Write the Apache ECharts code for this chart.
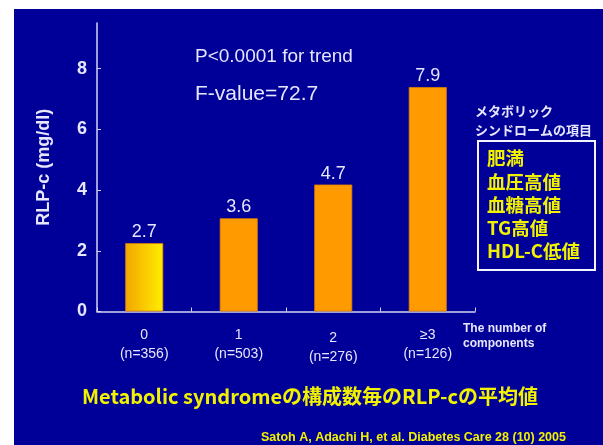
<!DOCTYPE html>
<html>
<head>
<meta charset="utf-8">
<script src="https://cdn.jsdelivr.net/npm/echarts@6/dist/echarts.min.js"></script>
<style>
html,body{margin:0;padding:0;background:#fff;}
#c{width:603px;height:445px;}
</style>
</head>
<body>
<div id="c"></div>
<script>
// Data
var categories = ['0', '1', '2', '≥3'];
var sampleSizes = ['(n=356)', '(n=503)', '(n=276)', '(n=126)'];
// drawn bar heights as they appear against the axis
var barHeights = [2.25, 3.07, 4.18, 7.39];
// printed mean values above the bars
var meanLabels = ['2.7', '3.6', '4.7', '7.9'];
var yTicks = [0, 2, 4, 6, 8];
var componentItems = ['肥満', '血圧高値', '血糖高値', 'TG高値', 'HDL-C低値'];

var FONT = '"Liberation Sans", Arial, "Noto Sans CJK JP", sans-serif';
var JP = '"Noto Sans CJK JP", "Liberation Sans", sans-serif';
var WHITE = '#e6e6ff';
var YELLOW = '#f2f200';
var AXIS = '#d4d4f2';

var chart = echarts.init(document.getElementById('c'), null, {renderer: 'canvas'});

var seriesData = barHeights.map(function (v, i) {
  var item = {value: v};
  if (i === 0) {
    item.itemStyle = {
      color: new echarts.graphic.LinearGradient(0, 0, 1, 0, [
        {offset: 0, color: '#f2a600'},
        {offset: 1, color: '#ffee00'}
      ])
    };
  }
  return item;
});

var graphics = [
  {type: 'rect', z: -100, silent: true, shape: {x: 14, y: 9, width: 589, height: 436}, style: {fill: '#000099'}},
  {type: 'text', left: 195, top: 47, style: {text: 'P<0.0001 for trend', fill: WHITE, font: '19px ' + FONT}},
  {type: 'text', left: 195, top: 84, style: {text: 'F-value=72.7', fill: WHITE, font: '21px ' + FONT}},
  {type: 'text', left: 475, top: 102, style: {text: 'メタボリック\nシンドロームの項目', fill: WHITE, font: 'bold 13px ' + JP, lineHeight: 19}},
  {type: 'rect', shape: {x: 478, y: 141, width: 117, height: 129}, style: {fill: 'none', stroke: '#f4f4ff', lineWidth: 2}},
  {type: 'text', left: 463, top: 321, style: {text: 'The number of\ncomponents', fill: WHITE, font: 'bold 12px ' + FONT, lineHeight: 15}},
  {type: 'text', left: 82, top: 386, style: {text: 'Metabolic syndromeの構成数毎のRLP-cの平均値', fill: YELLOW, font: 'bold 20px ' + JP}},
  {type: 'text', left: 261, top: 431, style: {text: 'Satoh A, Adachi H, et al. Diabetes Care 28 (10) 2005', fill: YELLOW, font: 'bold 12.5px ' + FONT}}
];
componentItems.forEach(function (t, i) {
  graphics.push({type: 'text', left: 487, top: 149 + i * 23.3, style: {text: t, fill: YELLOW, font: 'bold 18.5px ' + JP}});
});

chart.setOption({
  backgroundColor: '#ffffff',
  animation: false,
  grid: {left: 97, right: 128, top: 23, bottom: 133.5},
  xAxis: {
    type: 'category',
    data: categories,
    boundaryGap: true,
    axisLine: {lineStyle: {color: AXIS, width: 1.5}},
    axisTick: {show: true, inside: true, length: 4, lineStyle: {color: AXIS}},
    axisLabel: {
      margin: 14,
      color: WHITE,
      fontFamily: FONT,
      fontSize: 14,
      lineHeight: 19,
      formatter: function (v, i) {
        return i === 2 ? '{low|' + v + '\n' + sampleSizes[i] + '}' : v + '\n' + sampleSizes[i];
      },
      rich: {
        low: {color: WHITE, fontFamily: FONT, fontSize: 14, lineHeight: 19, padding: [7, 0, 0, 0]}
      }
    }
  },
  yAxis: {
    type: 'value',
    min: 0,
    max: 9.5,
    interval: 2,
    name: 'RLP-c (mg/dl)',
    nameLocation: 'middle',
    nameRotate: 90,
    nameGap: 44,
    nameTextStyle: {color: WHITE, fontFamily: FONT, fontSize: 18, fontWeight: 'bold'},
    splitLine: {show: false},
    axisLine: {show: true, lineStyle: {color: AXIS, width: 1.5}},
    axisTick: {show: true, inside: true, length: 4, customValues: yTicks, lineStyle: {color: AXIS}},
    axisLabel: {customValues: yTicks, margin: 10, color: WHITE, fontFamily: FONT, fontSize: 18, fontWeight: 'bold'}
  },
  series: [{
    type: 'bar',
    data: seriesData,
    barWidth: 38,
    itemStyle: {color: '#ff9a00', borderColor: '#d98000', borderWidth: 0.8},
    label: {
      show: true,
      position: 'top',
      distance: 2,
      color: WHITE,
      fontFamily: FONT,
      fontSize: 18,
      formatter: function (p) { return meanLabels[p.dataIndex]; }
    }
  }],
  graphic: graphics
});
</script>
</body>
</html>
